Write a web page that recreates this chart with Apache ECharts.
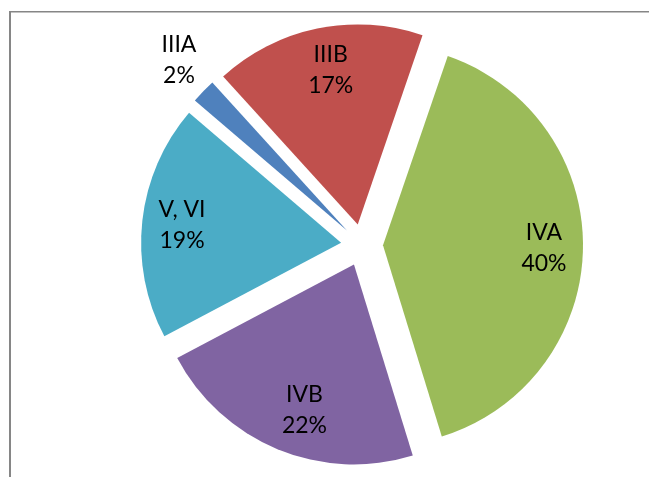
<!DOCTYPE html>
<html>
<head>
<meta charset="utf-8">
<script src="https://cdn.jsdelivr.net/npm/echarts@6/dist/echarts.min.js"></script>
<style>
  html, body { margin: 0; padding: 0; background: #fff; }
  #chart { width: 649px; height: 477px; }
</style>
</head>
<body>
<div id="chart"></div>
<script>
(function () {
  // data
  var stages = ['IIIA', 'IIIB', 'IVA', 'IVB', 'V, VI'];
  var shares = [2, 17, 40, 22, 19];
  var colors = ['#4F81BD', '#C0504D', '#9BBB59', '#8064A2', '#4BACC6'];

  // small label nudges (px), Excel places them a bit off the mid angle
  var labelNudge = {
    'IIIA': [8, -10],
    'IIIB': [5, 2],
    'IVA': [3, -6],
    'IVB': [11, 4],
    'V, VI': [-2, 6]
  };

  var myChart = echarts.init(document.getElementById('chart'));

  var center = [362, 245];
  var startAngle = 139.5;
  var offset = 21;

  // pie labels ignore offset, so shift them with uneven padding
  function nudgePadding(n) {
    var dx = n[0], dy = n[1];
    return [Math.max(0, 2 * dy), Math.max(0, -2 * dx), Math.max(0, -2 * dy), Math.max(0, 2 * dx)];
  }

  function buildData(withNudge) {
    var res = [];
    for (var i = 0; i < stages.length; i++) {
      var item = { name: stages[i], value: shares[i], selected: true };
      if (withNudge) {
        item.label = { padding: nudgePadding(labelNudge[stages[i]]) };
      }
      res.push(item);
    }
    return res;
  }

  var labelText = function (p) {
    return p.name + '\n' + p.value + '%';
  };

  var labelFont = {
    fontFamily: 'Lato',
    fontSize: 23,
    lineHeight: 31,
    color: '#000'
  };

  var baseSeries = {
    type: 'pie',
    center: center,
    startAngle: startAngle,
    clockwise: true,
    selectedMode: 'multiple',
    selectedOffset: offset,
    avoidLabelOverlap: false,
    animation: false,
    emphasis: { disabled: true },
    labelLine: { show: false }
  };

  myChart.setOption({
    color: colors,
    graphic: [{
      type: 'line',
      shape: { x1: 9, y1: 11.75, x2: 649, y2: 11.75 },
      style: { stroke: '#868686', lineWidth: 1.5 },
      silent: true
    }, {
      type: 'line',
      shape: { x1: 10, y1: 11, x2: 10, y2: 477 },
      style: { stroke: '#868686', lineWidth: 2 },
      silent: true
    }],
    series: [
      Object.assign({}, baseSeries, {
        name: 'slices',
        radius: [0, 200],
        label: { show: false },
        data: buildData(false)
      }),
      // transparent ring that carries the inside labels
      Object.assign({}, baseSeries, {
        name: 'labels',
        radius: [110, 200],
        silent: true,
        itemStyle: { color: 'rgba(0,0,0,0)' },
        label: Object.assign({
          show: true,
          position: 'inside',
          formatter: function (p) {
            return p.name === 'IIIA' ? '' : labelText(p);
          }
        }, labelFont),
        data: buildData(true)
      }),
      // outer ring only for the small slice label
      Object.assign({}, baseSeries, {
        name: 'outer',
        radius: [222, 262],
        silent: true,
        itemStyle: { color: 'rgba(0,0,0,0)' },
        label: Object.assign({
          show: true,
          position: 'inside',
          formatter: function (p) {
            return p.name === 'IIIA' ? labelText(p) : '';
          }
        }, labelFont),
        data: buildData(true)
      })
    ]
  });

  window.addEventListener('resize', function () {
    myChart.resize();
  });
})();
</script>
</body>
</html>
